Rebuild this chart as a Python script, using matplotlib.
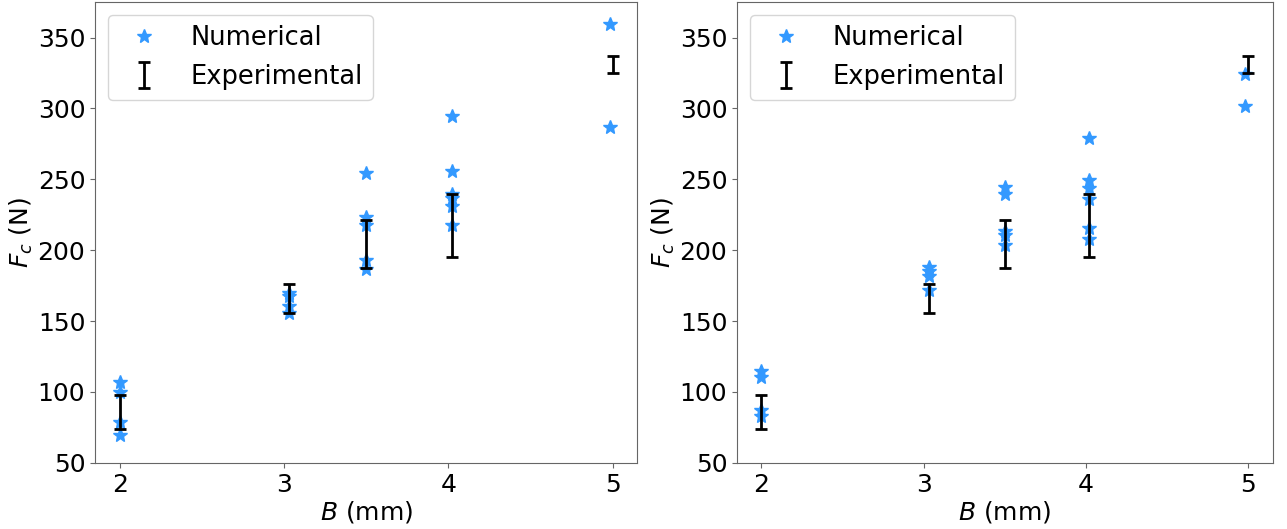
import matplotlib
matplotlib.use("Agg")
import matplotlib.pyplot as plt
import numpy as np

# ---- data ----
# Left panel numerical
left_num_x = [2.0, 2.0, 2.0, 2.0,
              3.03, 3.03, 3.03, 3.03,
              3.5, 3.5, 3.5, 3.5, 3.5,
              4.02, 4.02, 4.02, 4.02, 4.02, 4.02,
              4.98, 4.98]
left_num_y = [107, 100, 78.5, 70,
              170, 168, 161, 156,
              254.5, 223.5, 217.5, 193, 187,
              295, 256, 240, 237, 231, 218,
              359.5, 287]
# Right panel numerical
right_num_x = [2.0, 2.0, 2.0, 2.0,
               3.03, 3.03, 3.03, 3.03,
               3.5, 3.5, 3.5, 3.5, 3.5,
               4.02, 4.02, 4.02, 4.02, 4.02, 4.02,
               4.98, 4.98]
right_num_y = [114.5, 110.5, 87, 83,
               188.5, 185, 182, 172,
               244.5, 239.5, 213.5, 210.5, 204,
               279.5, 249.5, 244, 236, 216, 208,
               324, 302]
# Experimental (mean, half-range)
exp_x = [2.0, 3.03, 3.5, 4.02, 5.0]
exp_mean = [85.8, 166.0, 204.5, 217.5, 331.0]
exp_err = [12.2, 10.0, 17.0, 22.0, 6.0]

xticks = [2, 3, 4, 5]
yticks = [50, 100, 150, 200, 250, 300, 350]

star_color = "#3399FF"
fs = 18

fig = plt.figure(figsize=(12.87, 5.29), dpi=100)
ax1 = fig.add_axes([0.0738, 0.125, 0.4215, 0.871])
ax2 = fig.add_axes([0.5727, 0.125, 0.4163, 0.871])

for ax, nx, ny in [(ax1, left_num_x, left_num_y), (ax2, right_num_x, right_num_y)]:
    ax.plot(nx, ny, linestyle="none", marker="*", markersize=10,
            color=star_color, label="Numerical")
    ax.errorbar(exp_x, exp_mean, yerr=exp_err, fmt="none", ecolor="black",
                elinewidth=2, capsize=4, capthick=2, label="Experimental")
    ax.set_xlim(1.85, 5.15)
    ax.set_ylim(50, 375)
    ax.set_xticks(xticks)
    ax.set_yticks(yticks)
    ax.tick_params(labelsize=fs, color="0.4")
    for s in ax.spines.values():
        s.set_color("0.4")
    ax.set_xlabel("$B$ (mm)", fontsize=fs, labelpad=2)
    ax.set_ylabel("$F_c$ (N)", fontsize=fs, labelpad=2)
    ax.legend(loc="upper left", fontsize=18.5)

fig.savefig("out.png", dpi=100)
